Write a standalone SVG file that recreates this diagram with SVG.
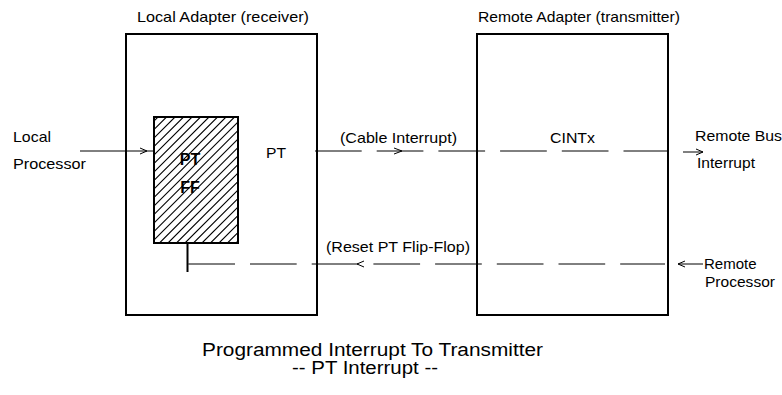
<svg xmlns="http://www.w3.org/2000/svg" width="782" height="395" viewBox="0 0 782 395">
<style>
text{font-family:"Liberation Sans",Arial,sans-serif;font-size:15px;fill:#000}
.box{fill:#fff;stroke:#000;stroke-width:2}
.ln{stroke:#000;stroke-width:1;fill:none}
.dash{stroke:#000;stroke-width:1;fill:none;stroke-dasharray:46.7 15}
.chev{stroke:#000;stroke-width:1;fill:none}
.hatch{stroke:#000;stroke-width:1.1;fill:none}
.big{font-size:18px}
.bold{font-weight:bold;font-size:16px}
</style>
<defs>
<clipPath id="ffclip"><rect x="154" y="117" width="84" height="126"/></clipPath>
</defs>
<g id="local-adapter">
<rect class="box" x="126" y="34" width="191" height="281"/>
<text x="137" y="22" textLength="172" lengthAdjust="spacingAndGlyphs">Local Adapter (receiver)</text>
<text x="266" y="158" textLength="20" lengthAdjust="spacingAndGlyphs">PT</text>
</g>
<g id="pt-ff">
<rect x="154" y="117" width="84" height="126" fill="#fff"/>
<path class="hatch" clip-path="url(#ffclip)" d="M32 243L158 117M40.5 243L166.5 117M49 243L175 117M57.5 243L183.5 117M66 243L192 117M74.5 243L200.5 117M83 243L209 117M91.5 243L217.5 117M100 243L226 117M108.5 243L234.5 117M117 243L243 117M125.5 243L251.5 117M134 243L260 117M142.5 243L268.5 117M151 243L277 117M159.5 243L285.5 117M168 243L294 117M176.5 243L302.5 117M185 243L311 117M193.5 243L319.5 117M202 243L328 117M210.5 243L336.5 117M219 243L345 117M227.5 243L353.5 117M236 243L362 117"/>
<rect x="154" y="117" width="84" height="126" fill="none" stroke="#000" stroke-width="2"/>
<text class="bold" x="190" y="165" text-anchor="middle">PT</text>
<text class="bold" x="190" y="193" text-anchor="middle">FF</text>
</g>
<g id="remote-adapter">
<rect class="box" x="477" y="34" width="191" height="281"/>
<text x="478" y="22" textLength="202" lengthAdjust="spacingAndGlyphs">Remote Adapter (transmitter)</text>
</g>
<g id="local-processor">
<text x="13" y="142" textLength="38" lengthAdjust="spacingAndGlyphs">Local</text>
<text x="13" y="169" textLength="73" lengthAdjust="spacingAndGlyphs">Processor</text>
</g>
<g id="remote-bus-interrupt">
<text x="695" y="141" textLength="87" lengthAdjust="spacingAndGlyphs">Remote Bus</text>
<text x="697" y="168" textLength="58" lengthAdjust="spacingAndGlyphs">Interrupt</text>
</g>
<g id="remote-processor">
<text x="704" y="269">Remote</text>
<text x="705" y="287" textLength="70" lengthAdjust="spacingAndGlyphs">Processor</text>
</g>
<g id="connectors">
<line class="ln" x1="80" y1="151" x2="154" y2="151"/>
<polyline class="chev" points="140,148 147,151 140,154"/>
<line class="dash" x1="315" y1="151" x2="668" y2="151"/>
<polyline class="chev" points="394,148 402,151 394,154"/>
<line class="ln" x1="683" y1="152" x2="703" y2="152"/>
<polyline class="chev" points="696,149 703,152 696,155"/>
<line x1="187.5" y1="243" x2="187.5" y2="272" stroke="#000" stroke-width="2"/>
<line class="dash" x1="188.3" y1="264" x2="665" y2="264"/>
<polyline class="chev" points="364,261 357,264 364,267"/>
<line class="ln" x1="678" y1="264" x2="703" y2="264"/>
<polyline class="chev" points="685,261 678,264 685,267"/>
<text x="340" y="143" textLength="117" lengthAdjust="spacingAndGlyphs">(Cable Interrupt)</text>
<text x="550" y="143" textLength="45" lengthAdjust="spacingAndGlyphs">CINTx</text>
<text x="326" y="252" textLength="144" lengthAdjust="spacingAndGlyphs">(Reset PT Flip-Flop)</text>
</g>
<g id="caption">
<text class="big" x="202" y="356" textLength="341" lengthAdjust="spacingAndGlyphs">Programmed Interrupt To Transmitter</text>
<text class="big" x="292" y="374" textLength="146" lengthAdjust="spacingAndGlyphs">-- PT Interrupt --</text>
</g>
</svg>
